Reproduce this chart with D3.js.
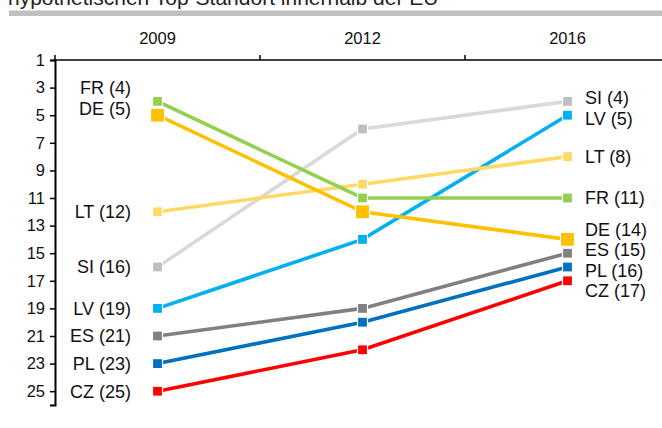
<!DOCTYPE html>
<html>
<head>
<meta charset="utf-8">
<script src="https://cdn.jsdelivr.net/npm/d3@7"></script>
<style>
  body { margin: 0; background: #fff; }
  svg { display: block; font-family: Arial, "Liberation Sans", sans-serif; }
</style>
</head>
<body>
<div id="chart"></div>
<script>
// data
const years = ["2009", "2012", "2016"];
const countries = ["FR", "DE", "LT", "SI", "LV", "ES", "PL", "CZ"];
const ranks = {
  FR: [4, 11, 11],
  DE: [5, 12, 14],
  LT: [12, 10, 8],
  SI: [16, 6, 4],
  LV: [19, 14, 5],
  ES: [21, 19, 15],
  PL: [23, 20, 16],
  CZ: [25, 22, 17]
};
const rankTicks = [1, 3, 5, 7, 9, 11, 13, 15, 17, 19, 21, 23, 25];
const titleText = "hypothetischen Top-Standort innerhalb der EU";

// styles
const lineColor = {
  FR: "#92d050", DE: "#ffc000", LT: "#ffd966", SI: "#d9d9d9",
  LV: "#00b0f0", ES: "#808080", PL: "#0070c0", CZ: "#ff0000"
};
const markerColor = { ...lineColor, SI: "#bfbfbf" };
const bigMarker = { DE: true };
const leftNudge = { FR: -10, DE: -10 };

const width = 662, height = 428;
const svg = d3.select("#chart").append("svg")
  .attr("width", width).attr("height", height);

// title (cut off at the top, as in the source) and bar
svg.append("text")
  .attr("x", 8).attr("y", 5)
  .attr("font-size", 21).attr("fill", "#222")
  .text(titleText);
svg.append("rect")
  .attr("x", 9).attr("y", 10.5).attr("width", width).attr("height", 5.5)
  .attr("fill", "#c0c0c0");

// scales
const x = d3.scaleBand().domain(years).range([55, 670]).padding(0);
const y = d3.scaleLinear().domain([1, 26]).range([60, 405]);
const cx = yr => x(yr) + x.bandwidth() / 2;

// top axis
const topAxis = svg.append("g");
topAxis.append("line")
  .attr("x1", 55).attr("x2", width).attr("y1", y(1)).attr("y2", y(1))
  .attr("stroke", "#000").attr("stroke-width", 1.5);
topAxis.selectAll("line.tick")
  .data(years).join("line").attr("class", "tick")
  .attr("x1", d => x(d)).attr("x2", d => x(d))
  .attr("y1", y(1) - 5).attr("y2", y(1))
  .attr("stroke", "#000").attr("stroke-width", 1.5);
topAxis.selectAll("text")
  .data(years).join("text")
  .attr("x", d => cx(d)).attr("y", 44)
  .attr("text-anchor", "middle").attr("font-size", 16.5).attr("fill", "#111")
  .text(d => d);

// left axis
const leftAxis = svg.append("g")
  .attr("transform", "translate(55,0)")
  .call(d3.axisLeft(y).tickValues(rankTicks).tickSize(5).tickPadding(5).tickFormat(d3.format("d")));
leftAxis.select(".domain").attr("stroke-width", 2);
leftAxis.selectAll(".tick line").attr("stroke-width", 1.5);
leftAxis.selectAll(".tick text")
  .attr("font-size", 16.5).attr("fill", "#111")
  .attr("font-family", "Arial, 'Liberation Sans', sans-serif");

// lines
const line = d3.line().x((d, i) => cx(years[i])).y(d => y(d));
const order = countries.slice().reverse();
svg.append("g").selectAll("path")
  .data(order).join("path")
  .attr("d", c => line(ranks[c]))
  .attr("fill", "none")
  .attr("stroke", c => lineColor[c])
  .attr("stroke-width", 3.6);

// markers
order.forEach(c => {
  const s = bigMarker[c] ? 14 : 10;
  svg.append("g").selectAll("rect")
    .data(ranks[c]).join("rect")
    .attr("x", (d, i) => cx(years[i]) - s / 2)
    .attr("y", d => y(d) - s / 2)
    .attr("width", s).attr("height", s)
    .attr("fill", markerColor[c])
    .attr("stroke", "#fff").attr("stroke-width", 1.2);
});

// label dodge
function dodge(items, gap) {
  items.sort((a, b) => a.y - b.y);
  const groups = items.map(d => ({ members: [d], y: d.y }));
  let merged = true;
  while (merged) {
    merged = false;
    for (let i = 0; i < groups.length - 1; i++) {
      const a = groups[i], b = groups[i + 1];
      const aBottom = a.y + (a.members.length - 1) * gap / 2;
      const bTop = b.y - (b.members.length - 1) * gap / 2;
      if (bTop - aBottom < gap) {
        const members = a.members.concat(b.members);
        const g = { members, y: d3.mean(members, m => m.y) };
        groups.splice(i, 2, g);
        merged = true;
        break;
      }
    }
  }
  groups.forEach(g => {
    const start = g.y - (g.members.length - 1) * gap / 2;
    g.members.forEach((m, k) => { m.ly = start + k * gap; });
  });
  return items;
}

const leftLabels = dodge(countries.map(c => ({ c, v: ranks[c][0], y: y(ranks[c][0]) })), 20.5);
const rightLabels = dodge(countries.map(c => ({ c, v: ranks[c][2], y: y(ranks[c][2]) })), 20.5);

svg.append("g").selectAll("text")
  .data(leftLabels).join("text")
  .attr("x", 131).attr("y", d => d.ly + (leftNudge[d.c] || 0))
  .attr("dy", "0.35em").attr("text-anchor", "end")
  .attr("font-size", 18).attr("fill", "#111")
  .text(d => `${d.c} (${d.v})`);

svg.append("g").selectAll("text")
  .data(rightLabels).join("text")
  .attr("x", 585).attr("y", d => d.ly)
  .attr("dy", "0.35em").attr("text-anchor", "start")
  .attr("font-size", 18).attr("fill", "#111")
  .text(d => `${d.c} (${d.v})`);
</script>
</body>
</html>
